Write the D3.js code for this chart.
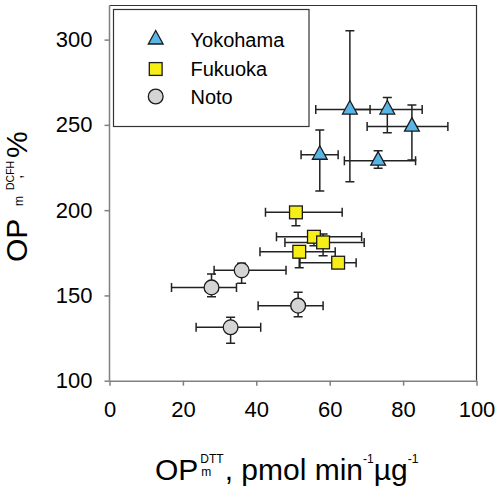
<!DOCTYPE html>
<html>
<head>
<meta charset="utf-8">
<script src="https://cdn.jsdelivr.net/npm/d3@7"></script>
<style>
  html, body { margin: 0; padding: 0; background: #fff; }
  svg { display: block; font-family: Arial, "Liberation Sans", sans-serif; }
</style>
</head>
<body>
<div id="chart"></div>
<script>
// Yokohama (triangles)
const yokoX = [65.5, 75.7, 82.4, 73.2, 57.3];
const yokoY = [259, 259, 249, 229, 232.5];
const yokoXLo = [56.2, 66.1, 70.2, 64.0, 52.2];
const yokoXHi = [71.0, 85.2, 92.2, 83.4, 62.3];
const yokoYLo = [216.6, 245.4, 229.4, 224.5, 211.2];
const yokoYHi = [305.2, 266.1, 261.6, 234.8, 247.0];

// Fukuoka (squares)
const fukuX = [50.8, 55.7, 58.2, 51.7, 62.3];
const fukuY = [198.7, 184.4, 181.1, 175.6, 169.2];
const fukuXLo = [42.5, 45.5, 47.8, 41.0, 51.9];
const fukuXHi = [63.4, 68.7, 69.4, 61.5, 67.2];
const fukuYLo = [190.9, 179.1, 173.3, 166.2, 167.0];
const fukuYHi = [202.0, 187.0, 186.0, 178.0, 171.0];

// Noto (circles)
const notoX = [36.0, 27.8, 51.4, 33.0];
const notoY = [164.7, 154.7, 144.0, 131.3];
const notoXLo = [28.5, 16.9, 40.5, 23.6];
const notoXHi = [48.1, 34.6, 58.2, 41.2];
const notoYLo = [157.1, 149.2, 137.5, 121.9];
const notoYHi = [168.8, 162.5, 151.8, 137.2];

const xTicks = [0, 20, 40, 60, 80, 100];
const yTicks = [100, 150, 200, 250, 300];
const seriesNames = ['Yokohama', 'Fukuoka', 'Noto'];

const W = 500, H = 491;
const margin = { top: 5.5, right: 23.5, bottom: 110.3, left: 109.5 };
const width = W - margin.left - margin.right;
const height = H - margin.top - margin.bottom;

const svg = d3.select('#chart').append('svg')
  .attr('width', W)
  .attr('height', H);

const x = d3.scaleLinear().domain([0, 100]).range([margin.left, margin.left + width]);
const y = d3.scaleLinear().domain([100, 320]).range([margin.top + height, margin.top]);

// frame: top and right
svg.append('path')
  .attr('d', `M${x(0)},${y(320)}H${x(100)}V${y(100)}`)
  .attr('fill', 'none')
  .attr('stroke', '#333')
  .attr('stroke-width', 1.2);

// axes
const xAxis = svg.append('g')
  .attr('transform', `translate(0,${y(100)})`)
  .call(d3.axisBottom(x).tickValues(xTicks).tickSize(5).tickPadding(16).tickSizeOuter(0));
const yAxis = svg.append('g')
  .attr('transform', `translate(${x(0)},0)`)
  .call(d3.axisLeft(y).tickValues(yTicks).tickSize(5).tickPadding(12).tickSizeOuter(0));

[xAxis, yAxis].forEach(a => {
  a.select('.domain').attr('stroke', '#808080').attr('stroke-width', 1.5);
  a.selectAll('.tick line').attr('stroke', '#808080').attr('stroke-width', 1.5);
  a.selectAll('.tick text')
    .attr('fill', '#000')
    .style('font-size', '22px')
    .style('font-family', 'Arial, "Liberation Sans", sans-serif');
});
// left axis runs up to the top of the frame
yAxis.select('.domain').attr('d', `M0,${y(100)}V${y(320)}`);

function makeSeries(xs, ys, xlo, xhi, ylo, yhi) {
  return xs.map((v, i) => ({ x: v, y: ys[i], xlo: xlo[i], xhi: xhi[i], ylo: ylo[i], yhi: yhi[i] }));
}
const series = [
  { name: seriesNames[0], shape: 'tri', fill: '#58b5e6', data: makeSeries(yokoX, yokoY, yokoXLo, yokoXHi, yokoYLo, yokoYHi) },
  { name: seriesNames[1], shape: 'sq', fill: '#f8ee17', data: makeSeries(fukuX, fukuY, fukuXLo, fukuXHi, fukuYLo, fukuYHi) },
  { name: seriesNames[2], shape: 'circ', fill: '#d4d4d4', data: makeSeries(notoX, notoY, notoXLo, notoXHi, notoYLo, notoYHi) }
];

const cap = 4.5;
const errG = svg.append('g').attr('stroke', '#222').attr('stroke-width', 1.5).attr('fill', 'none');
series.forEach(s => {
  s.data.forEach(d => {
    const cx = x(d.x), cy = y(d.y);
    errG.append('path').attr('d',
      `M${x(d.xlo)},${cy}H${x(d.xhi)}` +
      `M${x(d.xlo)},${cy - cap}V${cy + cap}M${x(d.xhi)},${cy - cap}V${cy + cap}` +
      `M${cx},${y(d.ylo)}V${y(d.yhi)}` +
      `M${cx - cap},${y(d.ylo)}H${cx + cap}M${cx - cap},${y(d.yhi)}H${cx + cap}`);
  });
});

function drawMarker(g, shape, cx, cy, fill) {
  let m;
  if (shape === 'tri') {
    m = g.append('path').attr('d', `M${cx},${cy - 9}L${cx + 7.4},${cy + 4.5}L${cx - 7.4},${cy + 4.5}Z`);
  } else if (shape === 'sq') {
    m = g.append('rect').attr('x', cx - 6.4).attr('y', cy - 6.4).attr('width', 12.8).attr('height', 12.8);
  } else {
    m = g.append('circle').attr('cx', cx).attr('cy', cy).attr('r', 7.4);
  }
  m.attr('fill', fill).attr('stroke', '#1a1a1a').attr('stroke-width', 1.3);
}

const markG = svg.append('g');
series.forEach(s => s.data.forEach(d => drawMarker(markG, s.shape, x(d.x), y(d.y), s.fill)));

// legend
const leg = svg.append('g');
leg.append('rect')
  .attr('x', 113.5).attr('y', 9.5).attr('width', 195.5).attr('height', 117)
  .attr('fill', '#fff').attr('stroke', '#333').attr('stroke-width', 1.2);
const legY = [39.5, 69, 96.5];
series.forEach((s, i) => {
  drawMarker(leg, s.shape, 155.7, legY[i], s.fill);
  leg.append('text')
    .attr('x', 190.5).attr('y', legY[i] + 7)
    .style('font-size', '20px')
    .text(s.name);
});

// x axis title
function piece(g, txt, px, py, size) {
  const t = g.append('text').attr('x', px).attr('y', py).style('font-size', size + 'px').text(txt);
  return t.node().getComputedTextLength();
}
const xt = svg.append('g');
let cx0 = 155, base = 480;
cx0 += piece(xt, 'OP', cx0, base, 30) + 2;
const wSup = piece(xt, 'DTT', cx0, base - 17, 12);
const wSub = piece(xt, 'm', cx0 + 1, base - 4, 12);
cx0 += Math.max(wSup, wSub + 1) + 1;
cx0 += piece(xt, ', pmol min', cx0, base, 30);
cx0 += piece(xt, '-1', cx0, base - 17, 12);
cx0 += piece(xt, 'µg', cx0, base, 30);
piece(xt, '-1', cx0, base - 17, 12);

// y axis title (rotated); positions follow the reference spacing
const yt = svg.append('g').attr('transform', 'translate(27,262) rotate(-90)');
piece(yt, 'OP', 0, 0, 30);
piece(yt, 'm', 56, -4, 12);
piece(yt, 'DCFH', 72, -13, 10.5);
piece(yt, ',', 83, -5, 16);
piece(yt, '%', 104, 0, 30);
</script>
</body>
</html>
